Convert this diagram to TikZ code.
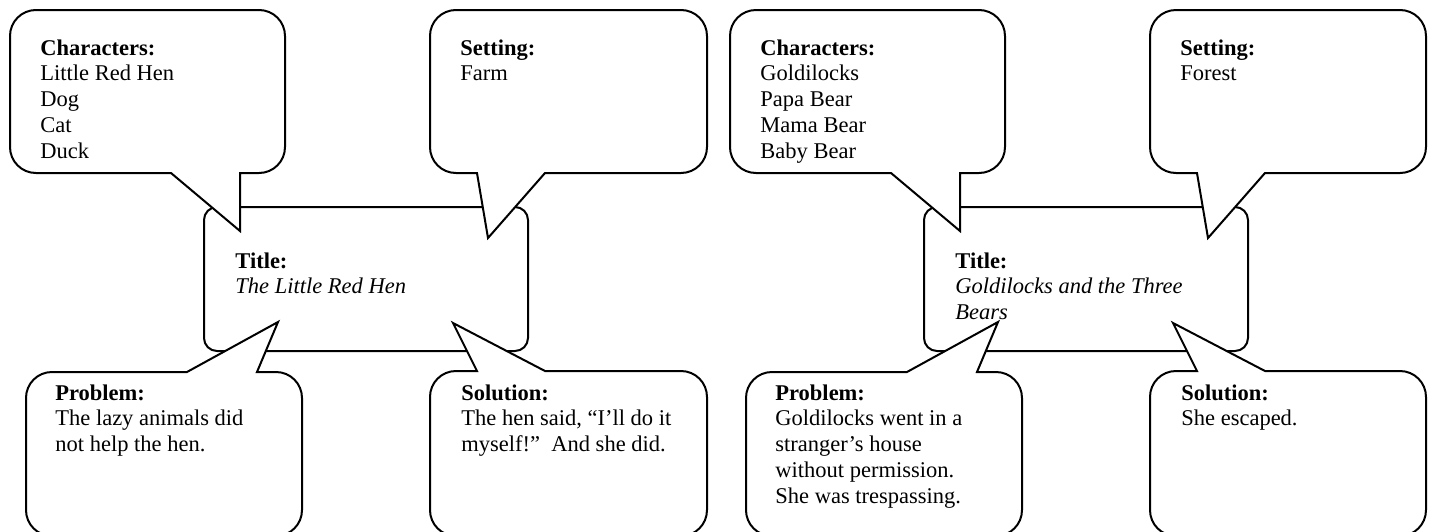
\documentclass[tikz,border=0pt]{standalone}
\usepackage{fontspec}
\setmainfont{Liberation Serif}
\tikzset{
  bub/.style={draw=black, fill=white, line width=1pt, line join=miter},
  titlebox/.style={draw=black, fill=white, line width=1pt, rounded corners=6.5pt},
  txt/.style={anchor=base west, inner sep=0pt, font=\fontsize{11.25}{12.9}\selectfont},
}
% bubble with tail on bottom edge: x1 y1 x2 y2 tailL tailR tipx tipy
\newcommand\bubbleB[8]{%
  \draw[bub] ({#1+26},#2) -- ({#3-26},#2)
    .. controls ({#3-11.6},#2) and (#3,{#2+11.6}) .. (#3,{#2+26})
    -- (#3,{#4-26})
    .. controls (#3,{#4-11.6}) and ({#3-11.6},#4) .. ({#3-26},#4)
    -- (#6,#4) -- (#7,#8) -- (#5,#4) -- ({#1+26},#4)
    .. controls ({#1+11.6},#4) and (#1,{#4-11.6}) .. (#1,{#4-26})
    -- (#1,{#2+26})
    .. controls (#1,{#2+11.6}) and ({#1+11.6},#2) .. ({#1+26},#2) -- cycle;}
% bubble with tail on top edge
\newcommand\bubbleT[8]{%
  \draw[bub] ({#1+26},#2) -- (#5,#2) -- (#7,#8) -- (#6,#2) -- ({#3-26},#2)
    .. controls ({#3-11.6},#2) and (#3,{#2+11.6}) .. (#3,{#2+26})
    -- (#3,{#4-26})
    .. controls (#3,{#4-11.6}) and ({#3-11.6},#4) .. ({#3-26},#4)
    -- ({#1+26},#4)
    .. controls ({#1+11.6},#4) and (#1,{#4-11.6}) .. (#1,{#4-26})
    -- (#1,{#2+26})
    .. controls (#1,{#2+11.6}) and ({#1+11.6},#2) .. ({#1+26},#2) -- cycle;}
\newcommand\lines[1]{\begin{tabular}[t]{@{}l@{}}#1\end{tabular}}
\begin{document}
\begin{tikzpicture}[x=0.5pt,y=-0.5pt]
\useasboundingbox (0,0) rectangle (1432,531);
\clip (0,0) rectangle (1432,531);
% ---------- left diagram ----------
\draw[titlebox] (204,207) rectangle (528,351);
\bubbleB{10}{10}{285}{173}{171}{240}{240}{231}
\bubbleB{430}{10}{707}{173}{477}{545}{488}{238}
\bubbleT{26}{372}{302}{536}{187}{257}{278}{322}
\bubbleT{430}{371}{707}{536}{477}{545}{453}{323}
\node[txt] (titleL) at (235,268) {\lines{\textbf{Title:}\\\textit{The Little Red Hen}}};
\node[txt] (charL) at (40,55) {\lines{\textbf{Characters:}\\Little Red Hen\\Dog\\Cat\\Duck}};
\node[txt] (setL) at (460,55) {\lines{\textbf{Setting:}\\Farm}};
\node[txt] (probL) at (55,400) {\lines{\textbf{Problem:}\\The lazy animals did\\not help the hen.}};
\node[txt] (solL) at (461,400) {\lines{\textbf{Solution:}\\The hen said, “I’ll do it\\myself!”\ \ And she did.}};
% ---------- right diagram ----------
\draw[titlebox] (924,207) rectangle (1248,351);
\bubbleB{730}{10}{1005}{173}{891}{960}{960}{231}
\bubbleB{1150}{10}{1426}{173}{1197}{1265}{1208}{238}
\bubbleT{746}{372}{1022}{536}{907}{977}{998}{322}
\bubbleT{1150}{371}{1426}{536}{1197}{1265}{1173}{323}
\node[txt] (titleR) at (955,268) {\lines{\textbf{Title:}\\\textit{Goldilocks and the Three}\\\textit{Bears}}};
\node[txt] (charR) at (760,55) {\lines{\textbf{Characters:}\\Goldilocks\\Papa Bear\\Mama Bear\\Baby Bear}};
\node[txt] (setR) at (1180,55) {\lines{\textbf{Setting:}\\Forest}};
\node[txt] (probR) at (775,400) {\lines{\textbf{Problem:}\\Goldilocks went in a\\stranger’s house\\without permission.\\She was trespassing.}};
\node[txt] (solR) at (1181,400) {\lines{\textbf{Solution:}\\She escaped.}};
\end{tikzpicture}
\end{document}
